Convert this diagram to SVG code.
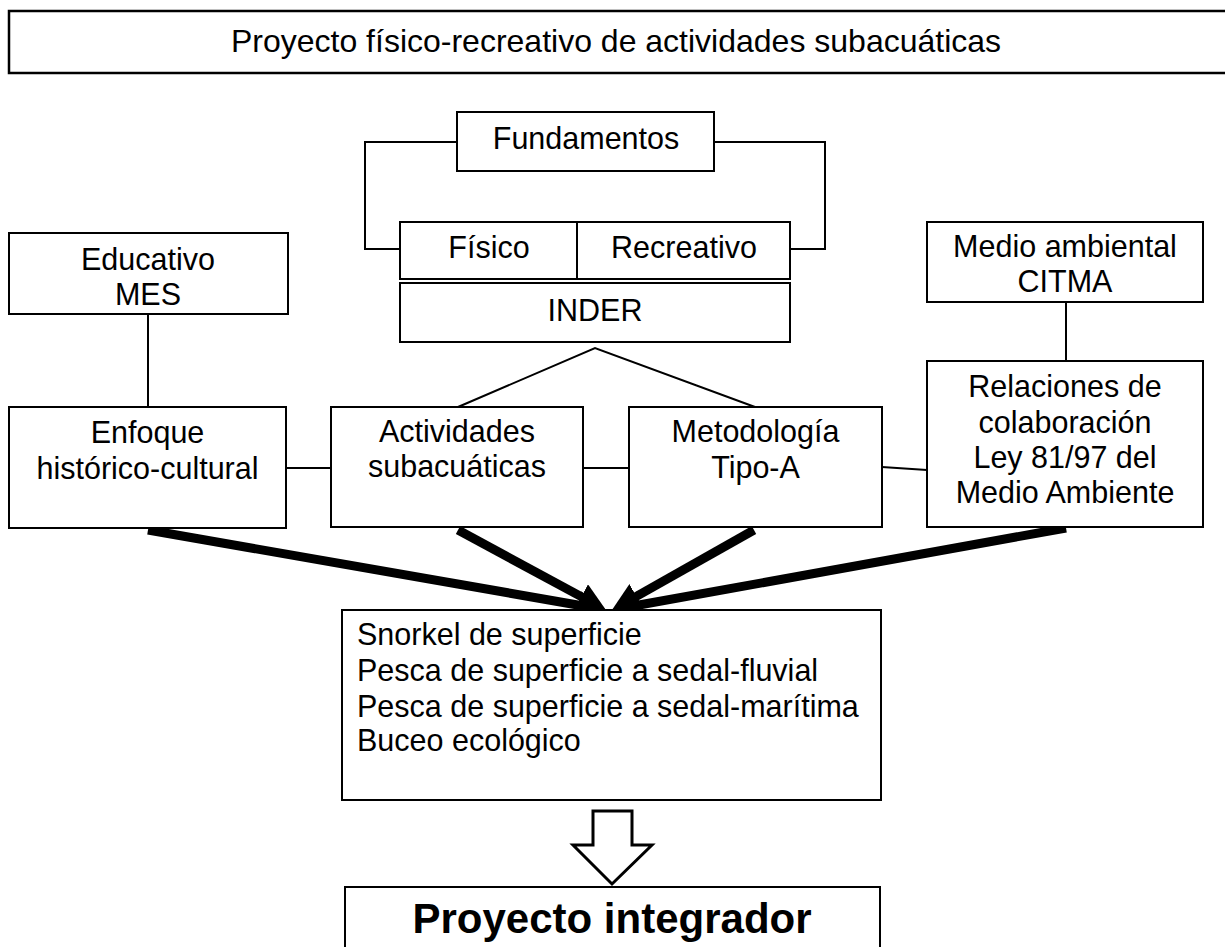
<svg xmlns="http://www.w3.org/2000/svg" width="1225" height="947" viewBox="0 0 1225 947">
<style>
  .box { fill: #ffffff; stroke: #000000; stroke-width: 2; }
  .t { font-family: "Liberation Sans", Arial, sans-serif; font-size: 30.5px; fill: #000000; text-anchor: middle; }
  .tl { font-family: "Liberation Sans", Arial, sans-serif; font-size: 30.5px; fill: #000000; }
  .ln { fill: none; stroke: #000000; stroke-width: 2; }
  .thick { fill: none; stroke: #000000; stroke-width: 9; marker-end: url(#ah); }
</style>
<defs>
  <marker id="ah" markerUnits="userSpaceOnUse" viewBox="0 0 28 28" markerWidth="28" markerHeight="28" refX="2" refY="14" orient="auto">
    <path d="M0,0 L28,14 L0,28 z" fill="#000000"/>
  </marker>
</defs>
<rect width="1225" height="947" fill="#ffffff"/>

<g id="title">
  <rect class="box" x="9" y="11" width="1230" height="62" style="stroke-width:2.5"/>
  <text class="t" x="616" y="52" style="font-size:32px">Proyecto físico-recreativo de actividades subacuáticas</text>
</g>

<g id="connectors">
  <polyline class="ln" points="457,142 365,142 365,249 400,249"/>
  <polyline class="ln" points="714,142 825,142 825,249 790,249"/>
  <polyline class="ln" points="458,407 595,348 755,407"/>
  <line class="ln" x1="148" y1="314" x2="148" y2="407"/>
  <line class="ln" x1="1066" y1="302" x2="1066" y2="361"/>
  <line class="ln" x1="286" y1="468" x2="331" y2="468"/>
  <line class="ln" x1="583" y1="468" x2="629" y2="468"/>
  <line class="ln" x1="882" y1="467" x2="927" y2="470"/>
  <line class="thick" x1="148" y1="530" x2="580.5" y2="605.5"/>
  <line class="thick" x1="458" y1="530" x2="583.1" y2="597.6"/>
  <line class="thick" x1="754" y1="530" x2="634.6" y2="597.3"/>
  <line class="thick" x1="1066" y1="528" x2="637.6" y2="605.3"/>
  <polygon points="593,811 632,811 632,845 652,845 612,884 573,845 593,845" fill="#ffffff" stroke="#000000" stroke-width="3"/>
</g>

<g id="fundamentos">
  <rect class="box" x="457" y="112" width="257" height="59"/>
  <text class="t" x="586" y="149">Fundamentos</text>
</g>

<g id="fisico-recreativo">
  <rect class="box" x="400" y="222" width="390" height="57"/>
  <line class="ln" x1="577" y1="222" x2="577" y2="279"/>
  <text class="t" x="489" y="258">Físico</text>
  <text class="t" x="684" y="258">Recreativo</text>
</g>

<g id="inder">
  <rect class="box" x="400" y="283" width="390" height="59"/>
  <text class="t" x="595" y="321">INDER</text>
</g>

<g id="educativo">
  <rect class="box" x="9" y="233" width="279" height="81"/>
  <text class="t" x="148" y="270">Educativo</text>
  <text class="t" x="148" y="305">MES</text>
</g>

<g id="medio-ambiental">
  <rect class="box" x="927" y="222" width="276" height="80"/>
  <text class="t" x="1065" y="257">Medio ambiental</text>
  <text class="t" x="1065" y="292">CITMA</text>
</g>

<g id="enfoque">
  <rect class="box" x="9" y="407" width="277" height="121"/>
  <text class="t" x="147.5" y="443">Enfoque</text>
  <text class="t" x="147.5" y="479">histórico-cultural</text>
</g>

<g id="actividades">
  <rect class="box" x="331" y="407" width="252" height="120"/>
  <text class="t" x="457" y="442">Actividades</text>
  <text class="t" x="457" y="477">subacuáticas</text>
</g>

<g id="metodologia">
  <rect class="box" x="629" y="407" width="253" height="120"/>
  <text class="t" x="755.5" y="442">Metodología</text>
  <text class="t" x="755.5" y="478">Tipo-A</text>
</g>

<g id="relaciones">
  <rect class="box" x="927" y="361" width="276" height="166"/>
  <text class="t" x="1065" y="397">Relaciones de</text>
  <text class="t" x="1065" y="433">colaboración</text>
  <text class="t" x="1065" y="468">Ley 81/97 del</text>
  <text class="t" x="1065" y="503">Medio Ambiente</text>
</g>

<g id="lista">
  <rect class="box" x="342" y="610" width="539" height="190"/>
  <text class="tl" x="357" y="645">Snorkel de superficie</text>
  <text class="tl" x="357" y="681">Pesca de superficie a sedal-fluvial</text>
  <text class="tl" x="357" y="717">Pesca de superficie a sedal-marítima</text>
  <text class="tl" x="357" y="751">Buceo ecológico</text>
</g>

<g id="proyecto-integrador">
  <rect class="box" x="345" y="887" width="535" height="80"/>
  <text class="t" x="612" y="933" style="font-size:42px;font-weight:bold">Proyecto integrador</text>
</g>
</svg>
